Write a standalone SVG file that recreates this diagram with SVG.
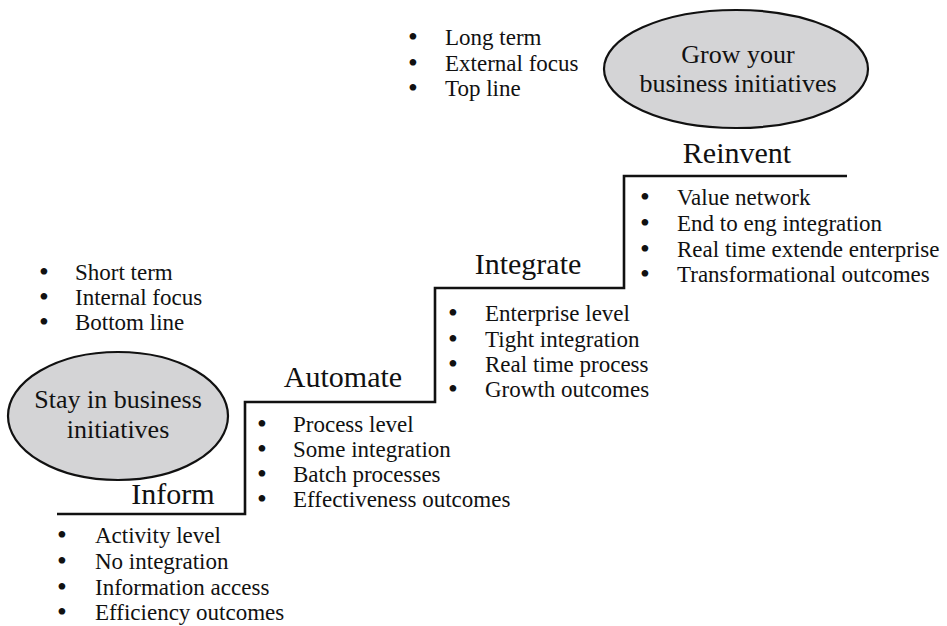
<svg xmlns="http://www.w3.org/2000/svg" width="947" height="626" viewBox="0 0 947 626" font-family="'Liberation Serif', 'DejaVu Serif', serif">
  <style>
    text { font-family: 'Liberation Serif', 'DejaVu Serif', serif; fill: #111; }
    .goal { fill: #d4d4d6; stroke: #111; stroke-width: 2.2; }
    .goal-label { font-size: 26px; text-anchor: middle; }
    .step { font-size: 30px; text-anchor: middle; }
    .item { font-size: 23px; }
    .dot { font-size: 28px; }
    .stair { fill: none; stroke: #111; stroke-width: 2.6; stroke-linejoin: miter; }
  </style>

  <!-- staircase -->
  <g id="connectors">
    <path class="stair" d="M57,514 H245 V402 H435 V288 H624 V176 H847"/>
  </g>

  <!-- short-term goal -->
  <g id="stay-in-business">
    <ellipse class="goal" cx="118" cy="416" rx="110" ry="64"/>
    <text class="goal-label" x="118" y="408">Stay in business</text>
    <text class="goal-label" x="118" y="438">initiatives</text>
  </g>

  <g id="short-term-list">
    <text class="item" y="280"><tspan class="dot" x="39" dy="1">•</tspan><tspan x="75" dy="-1">Short term</tspan></text>
    <text class="item" y="305"><tspan class="dot" x="39" dy="1">•</tspan><tspan x="75" dy="-1">Internal focus</tspan></text>
    <text class="item" y="330"><tspan class="dot" x="39" dy="1">•</tspan><tspan x="75" dy="-1">Bottom line</tspan></text>
  </g>

  <!-- long-term goal -->
  <g id="grow-business">
    <ellipse class="goal" cx="736" cy="69" rx="132" ry="59"/>
    <text class="goal-label" x="738" y="63">Grow your</text>
    <text class="goal-label" x="738" y="92">business initiatives</text>
  </g>

  <g id="long-term-list">
    <text class="item" y="45"><tspan class="dot" x="408" dy="1">•</tspan><tspan x="445" dy="-1">Long term</tspan></text>
    <text class="item" y="71"><tspan class="dot" x="408" dy="1">•</tspan><tspan x="445" dy="-1">External focus</tspan></text>
    <text class="item" y="96"><tspan class="dot" x="408" dy="1">•</tspan><tspan x="445" dy="-1">Top line</tspan></text>
  </g>

  <!-- step 1 -->
  <g id="inform">
    <text class="step" x="173" y="504">Inform</text>
    <text class="item" y="543"><tspan class="dot" x="57" dy="1">•</tspan><tspan x="95" dy="-1">Activity level</tspan></text>
    <text class="item" y="569"><tspan class="dot" x="57" dy="1">•</tspan><tspan x="95" dy="-1">No integration</tspan></text>
    <text class="item" y="595"><tspan class="dot" x="57" dy="1">•</tspan><tspan x="95" dy="-1">Information access</tspan></text>
    <text class="item" y="620"><tspan class="dot" x="57" dy="1">•</tspan><tspan x="95" dy="-1">Efficiency outcomes</tspan></text>
  </g>

  <!-- step 2 -->
  <g id="automate">
    <text class="step" x="343" y="387">Automate</text>
    <text class="item" y="432"><tspan class="dot" x="257" dy="1">•</tspan><tspan x="293" dy="-1">Process level</tspan></text>
    <text class="item" y="457"><tspan class="dot" x="257" dy="1">•</tspan><tspan x="293" dy="-1">Some integration</tspan></text>
    <text class="item" y="482"><tspan class="dot" x="257" dy="1">•</tspan><tspan x="293" dy="-1">Batch processes</tspan></text>
    <text class="item" y="507"><tspan class="dot" x="257" dy="1">•</tspan><tspan x="293" dy="-1">Effectiveness outcomes</tspan></text>
  </g>

  <!-- step 3 -->
  <g id="integrate">
    <text class="step" x="528" y="274">Integrate</text>
    <text class="item" y="321"><tspan class="dot" x="448" dy="1">•</tspan><tspan x="485" dy="-1">Enterprise level</tspan></text>
    <text class="item" y="347"><tspan class="dot" x="448" dy="1">•</tspan><tspan x="485" dy="-1">Tight integration</tspan></text>
    <text class="item" y="372"><tspan class="dot" x="448" dy="1">•</tspan><tspan x="485" dy="-1">Real time process</tspan></text>
    <text class="item" y="397"><tspan class="dot" x="448" dy="1">•</tspan><tspan x="485" dy="-1">Growth outcomes</tspan></text>
  </g>

  <!-- step 4 -->
  <g id="reinvent">
    <text class="step" x="737" y="163">Reinvent</text>
    <text class="item" y="205"><tspan class="dot" x="640" dy="1">•</tspan><tspan x="677" dy="-1">Value network</tspan></text>
    <text class="item" y="231"><tspan class="dot" x="640" dy="1">•</tspan><tspan x="677" dy="-1">End to eng integration</tspan></text>
    <text class="item" y="257"><tspan class="dot" x="640" dy="1">•</tspan><tspan x="677" dy="-1">Real time extende enterprise</tspan></text>
    <text class="item" y="282"><tspan class="dot" x="640" dy="1">•</tspan><tspan x="677" dy="-1">Transformational outcomes</tspan></text>
  </g>
</svg>
